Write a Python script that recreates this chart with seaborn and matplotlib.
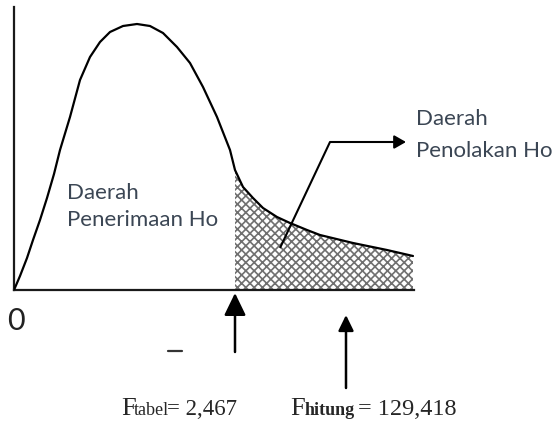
import matplotlib
matplotlib.use("Agg")
import matplotlib.pyplot as plt
import seaborn as sns
import numpy as np

# F distribution sketch (x in F units, y density)
curve_x = [0, 0.12, 0.26, 0.38, 0.52, 0.66, 0.80, 0.92, 1.12, 1.32, 1.52, 1.72,
           1.92, 2.18, 2.46, 2.72, 2.98, 3.26, 3.52, 3.78, 4.06, 4.32, 4.42,
           4.58, 4.78, 4.98, 5.26, 5.52, 5.86, 6.12, 6.78, 7.46, 7.98]
curve_y = [0, 0.14, 0.32, 0.50, 0.70, 0.92, 1.16, 1.40, 1.73, 2.10, 2.33, 2.48,
           2.58, 2.64, 2.66, 2.64, 2.57, 2.43, 2.27, 2.03, 1.73, 1.40, 1.20,
           1.03, 0.92, 0.82, 0.73, 0.67, 0.60, 0.55, 0.47, 0.40, 0.34]
f_tabel_pos = 4.42      # where the critical value sits on the sketch
f_hitung_pos = 6.64     # where the computed value arrow points
labels_accept = ["Daerah", "Penerimaan Ho"]
labels_reject = ["Daerah", "Penolakan Ho"]

W, H = 558, 423

sns.set_style("white")
plt.rcParams["hatch.color"] = "#707070"
plt.rcParams["hatch.linewidth"] = 1.2

fig = plt.figure(figsize=(W / 100, H / 100), dpi=100)
ax = fig.add_axes([14 / W, (H - 290) / H, 400 / W, 283 / H])
ax.set_xlim(0, 8.0)
ax.set_ylim(0, 2.83)


def px(x, y):
    """pixel position -> figure fraction"""
    return x / W, 1 - y / H


# curve
sns.lineplot(x=curve_x, y=curve_y, sort=False, color="black", lw=1.6, ax=ax, zorder=3)
ax.lines[0].set_solid_joinstyle("round")

# hatched rejection area
cx = np.array(curve_x)
cy = np.array(curve_y)
tail = cx >= f_tabel_pos
ax.fill_between(cx[tail], cy[tail], 0, facecolor="white", edgecolor="#707070",
                hatch="xxxx", linewidth=0, zorder=2)

# axes look
sns.despine(ax=ax)
for s in ["left", "bottom"]:
    ax.spines[s].set_linewidth(1.6)
    ax.spines[s].set_color("#1a1a1a")
ax.set_xticks([])
ax.set_yticks([])

# region labels
txt_col = "#3b4654"
ax.text(1.06, 0.91, labels_accept[0], fontsize=16, family="Lato", color=txt_col, va="baseline")
ax.text(1.06, 0.64, labels_accept[1], fontsize=16, family="Lato", color=txt_col, va="baseline")
ax.text(8.04, 1.65, labels_reject[0], fontsize=16, family="Lato", color=txt_col,
        va="baseline", clip_on=False)
ax.text(8.04, 1.33, labels_reject[1], fontsize=16, family="Lato", color=txt_col,
        va="baseline", clip_on=False)

# pointer into the rejection area
ax.plot([5.32, 6.32, 7.7], [0.42, 1.48, 1.48], color="black", lw=1.5, zorder=4,
        clip_on=False, solid_capstyle="butt")
ax.annotate("", xy=(7.84, 1.48), xytext=(7.6, 1.48), annotation_clip=False,
            arrowprops=dict(arrowstyle="-|>,head_length=0.35,head_width=0.2",
                            color="black", lw=1.5, mutation_scale=20,
                            shrinkA=0, shrinkB=0))

# arrows under the axis
ax.annotate("", xy=(f_tabel_pos, -0.03), xytext=(f_tabel_pos, -0.62), annotation_clip=False,
            arrowprops=dict(arrowstyle="-|>,head_length=0.68,head_width=0.33",
                            color="black", lw=1.8, mutation_scale=20,
                            shrinkA=0, shrinkB=0))
ax.annotate("", xy=(f_hitung_pos, -0.25), xytext=(f_hitung_pos, -0.98), annotation_clip=False,
            arrowprops=dict(arrowstyle="-|>,head_length=0.47,head_width=0.23",
                            color="black", lw=1.8, mutation_scale=20,
                            shrinkA=0, shrinkB=0))

# stray dash
ax.plot([3.08, 3.36], [-0.61, -0.61], color="#333333", lw=1.6, clip_on=False)

# origin
fig.text(*px(15.5, 321), "0", fontsize=22, family="Lato", color="#222222",
         ha="center", va="center")

# value labels
serif = "Liberation Serif"
fig.text(*px(121, 415), "F", fontsize=19, family=serif, va="baseline")
fig.text(*px(134, 415), "tabel", fontsize=13, family=serif, va="baseline")
fig.text(*px(167, 415), "= 2,467", fontsize=16.5, family=serif, va="baseline")
fig.text(*px(290, 415), "F", fontsize=19, family=serif, va="baseline")
fig.text(*px(305, 415), "hitung", fontsize=13, family=serif, weight="bold", va="baseline")
fig.text(*px(358, 415), "= 129,418", fontsize=17.5, family=serif, va="baseline")

plt.savefig("out.png", dpi=100)
